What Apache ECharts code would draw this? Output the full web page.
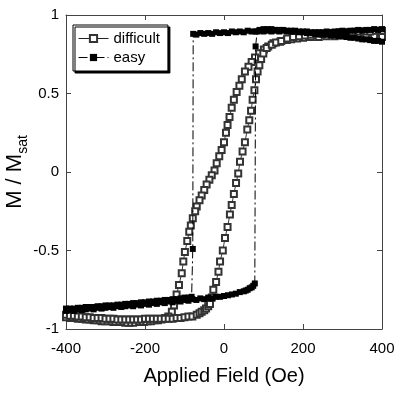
<!DOCTYPE html>
<html>
<head>
<meta charset="utf-8">
<script src="https://cdn.jsdelivr.net/npm/echarts@6/dist/echarts.min.js"></script>
<style>
  html, body { margin: 0; padding: 0; background: #fff; }
  #chart { width: 394px; height: 396px; }
</style>
</head>
<body>
<div id="chart"></div>
<script>
// axis ticks
const xTicks = [-400, -200, 0, 200, 400]
const yTicks = [-1, -0.5, 0, 0.5, 1]

// "difficult" loop, field swept down from +400 to -400
const difficultDown = [
  [400, 0.86], [380, 0.865], [360, 0.87], [340, 0.87], [320, 0.87], [300, 0.87],
  [280, 0.865], [260, 0.865], [240, 0.86], [220, 0.86], [200, 0.855], [185, 0.85],
  [170, 0.845], [159, 0.84], [142, 0.83], [125, 0.82], [112, 0.80], [101, 0.78],
  [89, 0.756], [78.5, 0.73], [70, 0.70], [62, 0.67], [53, 0.64], [45, 0.59],
  [39, 0.55], [32, 0.51], [25, 0.46], [19.5, 0.41], [14, 0.35], [9, 0.30],
  [5, 0.25], [0, 0.19], [-6, 0.14], [-12, 0.10], [-18.5, 0.055], [-24, 0.01],
  [-31, -0.02], [-37, -0.05], [-44, -0.08], [-50, -0.115], [-56.5, -0.15], [-62, -0.18],
  [-69, -0.22], [-73, -0.25], [-79, -0.295], [-84, -0.34], [-88, -0.38], [-93, -0.44],
  [-99, -0.51], [-103, -0.57], [-107, -0.645], [-114, -0.72], [-120, -0.78], [-126.5, -0.85],
  [-132, -0.89], [-141, -0.92], [-149, -0.93], [-158, -0.94], [-167, -0.945], [-176, -0.945],
  [-185, -0.95], [-194, -0.95], [-203, -0.955], [-212, -0.955], [-221, -0.955], [-230, -0.96],
  [-240, -0.96], [-250, -0.96], [-260, -0.955], [-270, -0.955], [-280, -0.955], [-290, -0.95],
  [-300, -0.95], [-310, -0.95], [-320, -0.945], [-330, -0.945], [-340, -0.94], [-350, -0.94],
  [-360, -0.935], [-370, -0.935], [-380, -0.93], [-390, -0.93], [-400, -0.925]
]

// "difficult" loop, field swept up from -400 to +400
const difficultUp = [
  [-400, -0.91], [-390, -0.915], [-380, -0.915], [-370, -0.92], [-360, -0.92], [-350, -0.925],
  [-340, -0.925], [-330, -0.93], [-320, -0.93], [-310, -0.93], [-300, -0.935], [-290, -0.935],
  [-280, -0.935], [-270, -0.94], [-260, -0.94], [-250, -0.94], [-240, -0.94], [-230, -0.94],
  [-220, -0.94], [-210, -0.94], [-200, -0.935], [-190, -0.935], [-180, -0.935], [-170, -0.935],
  [-160, -0.935], [-150, -0.935], [-140, -0.935], [-130, -0.935], [-120, -0.93], [-110, -0.93],
  [-100, -0.925], [-90, -0.92], [-80, -0.92], [-69, -0.91], [-62, -0.90], [-56.5, -0.89],
  [-50, -0.88], [-45.5, -0.87], [-40, -0.855], [-35.5, -0.84], [-31, -0.80], [-27, -0.75],
  [-20, -0.70], [-14, -0.635], [-10, -0.57], [-3, -0.50], [2.5, -0.42], [9, -0.35],
  [15, -0.27], [19.5, -0.21], [25, -0.14], [30.5, -0.07], [36, -0.01], [40.5, 0.065],
  [47, 0.13], [53, 0.19], [59, 0.27], [64, 0.33], [68.5, 0.39], [72.5, 0.46],
  [77, 0.52], [81, 0.59], [85, 0.64], [89.5, 0.68], [94, 0.72], [99.5, 0.755],
  [108, 0.79], [121, 0.81], [132, 0.825], [145, 0.835], [160, 0.85], [175, 0.86],
  [190, 0.865], [205, 0.87], [220, 0.875], [236, 0.88], [250, 0.88], [265, 0.885],
  [280, 0.885], [295, 0.89], [310, 0.89], [325, 0.89], [340, 0.895], [355, 0.895],
  [370, 0.895], [385, 0.9], [400, 0.9]
]

// "easy" loop, upper branch swept down, then the jump near -80
const easyDown = [
  [400, 0.83], [390, 0.835], [380, 0.835], [370, 0.84], [360, 0.845], [350, 0.845],
  [340, 0.85], [330, 0.855], [320, 0.855], [310, 0.86], [300, 0.865], [290, 0.865],
  [280, 0.87], [270, 0.87], [260, 0.875], [250, 0.875], [240, 0.88], [230, 0.88],
  [220, 0.885], [210, 0.885], [200, 0.89], [190, 0.89], [180, 0.895], [170, 0.895],
  [160, 0.895], [150, 0.9], [140, 0.895], [130, 0.9], [120, 0.895], [110, 0.9],
  [100, 0.895], [90, 0.9], [80, 0.895], [70, 0.895], [60, 0.9], [50, 0.89],
  [40, 0.895], [30, 0.89], [20, 0.895], [10, 0.885], [0, 0.89], [-10, 0.885],
  [-20, 0.89], [-30, 0.88], [-40, 0.885], [-50, 0.88], [-60, 0.885], [-70, 0.875],
  [-78, 0.88], [-79, -0.49],
  [-82, -0.795], [-90, -0.80], [-100, -0.80], [-110, -0.805], [-120, -0.81], [-130, -0.81],
  [-140, -0.815], [-150, -0.815], [-160, -0.82], [-170, -0.82], [-180, -0.825], [-190, -0.825],
  [-200, -0.83], [-210, -0.83], [-220, -0.835], [-230, -0.835], [-240, -0.84], [-250, -0.84],
  [-260, -0.845], [-270, -0.845], [-280, -0.85], [-290, -0.85], [-300, -0.85], [-310, -0.855],
  [-320, -0.855], [-330, -0.86], [-340, -0.86], [-350, -0.86], [-360, -0.865], [-370, -0.865],
  [-380, -0.87], [-390, -0.87], [-400, -0.87]
]

// "easy" loop, lower branch swept up, then the jump near +80
const easyUp = [
  [-400, -0.885], [-390, -0.88], [-380, -0.885], [-370, -0.875], [-360, -0.88], [-350, -0.875],
  [-340, -0.87], [-330, -0.875], [-320, -0.865], [-310, -0.87], [-300, -0.865], [-290, -0.86],
  [-280, -0.865], [-270, -0.855], [-260, -0.86], [-250, -0.855], [-240, -0.85], [-230, -0.855],
  [-220, -0.845], [-210, -0.85], [-200, -0.84], [-190, -0.845], [-180, -0.835], [-170, -0.84],
  [-160, -0.83], [-150, -0.835], [-140, -0.825], [-130, -0.83], [-120, -0.82], [-110, -0.825],
  [-100, -0.815], [-90, -0.82], [-80, -0.81], [-70, -0.815], [-60, -0.805], [-50, -0.81],
  [-40, -0.80], [-30, -0.805], [-20, -0.795], [-10, -0.795], [0, -0.79], [10, -0.785],
  [20, -0.78], [30, -0.775], [40, -0.765], [50, -0.76], [55, -0.755], [60, -0.75],
  [65, -0.74], [70, -0.735], [74, -0.725], [78, -0.71],
  [80, 0.80],
  [84, 0.895], [90, 0.905], [100, 0.91], [110, 0.91], [120, 0.91], [130, 0.905],
  [140, 0.905], [150, 0.905], [160, 0.9], [170, 0.9], [180, 0.9], [190, 0.895],
  [200, 0.895], [210, 0.895], [220, 0.89], [230, 0.89], [240, 0.89], [250, 0.89],
  [260, 0.895], [270, 0.89], [280, 0.895], [290, 0.895], [300, 0.9], [310, 0.895],
  [320, 0.9], [330, 0.9], [340, 0.905], [350, 0.9], [360, 0.905], [370, 0.905],
  [380, 0.91], [390, 0.905], [400, 0.91]
]

const FONT = '"Liberation Sans", Arial, sans-serif'

const chart = echarts.init(document.getElementById('chart'), null, { renderer: 'canvas' })

const frameLine = { show: true, onZero: false, lineStyle: { color: '#444', width: 1 } }
const innerTick = { show: true, inside: true, length: 5, lineStyle: { color: '#444' } }

const option = {
  animation: false,
  backgroundColor: '#fff',
  grid: { left: 66, top: 15, right: 12, bottom: 67, outerBoundsMode: 'none' },
  legend: {
    data: ['difficult', 'easy'],
    orient: 'vertical',
    left: 73,
    top: 25,
    padding: [6, 8, 6, 5],
    itemWidth: 30,
    itemHeight: 9,
    itemGap: 4,
    backgroundColor: '#fff',
    borderColor: '#000',
    borderWidth: 1,
    shadowColor: '#000',
    shadowBlur: 0,
    shadowOffsetX: 2,
    shadowOffsetY: 2,
    lineStyle: { width: 1 },
    itemStyle: { borderWidth: 0.9 },
    textStyle: { fontFamily: FONT, fontSize: 15, color: '#000' }
  },
  xAxis: [
    {
      type: 'value', position: 'bottom',
      min: xTicks[0], max: xTicks[xTicks.length - 1], interval: 200,
      axisLine: frameLine, axisTick: innerTick, splitLine: { show: false },
      axisLabel: { fontFamily: FONT, fontSize: 15, color: '#000', margin: 12 },
      name: 'Applied Field (Oe)', nameLocation: 'middle', nameGap: 37,
      nameMoveOverlap: false,
      nameTextStyle: { fontFamily: FONT, fontSize: 20, color: '#000' }
    },
    {
      type: 'value', position: 'top',
      min: xTicks[0], max: xTicks[xTicks.length - 1], interval: 200,
      axisLine: frameLine, axisTick: innerTick, splitLine: { show: false },
      axisLabel: { show: false }
    }
  ],
  yAxis: [
    {
      type: 'value', position: 'left',
      min: yTicks[0], max: yTicks[yTicks.length - 1], interval: 0.5,
      axisLine: frameLine, axisTick: innerTick, splitLine: { show: false },
      axisLabel: { fontFamily: FONT, fontSize: 15, color: '#000', margin: 7 },
      name: '{m|M / M}{s|sat}', nameLocation: 'middle', nameGap: 36,
      nameMoveOverlap: false,
      nameTextStyle: {
        color: '#000',
        rich: {
          m: { fontFamily: FONT, fontSize: 22, color: '#000' },
          s: { fontFamily: FONT, fontSize: 14, color: '#000', padding: [16, 0, 0, 0] }
        }
      }
    },
    {
      type: 'value', position: 'right',
      min: yTicks[0], max: yTicks[yTicks.length - 1], interval: 0.5,
      axisLine: frameLine, axisTick: innerTick, splitLine: { show: false },
      axisLabel: { show: false }
    }
  ],
  series: [
    {
      name: 'difficult',
      type: 'line',
      data: difficultDown.concat(difficultUp),
      symbol: 'emptyRect',
      symbolSize: 6,
      itemStyle: { color: '#333', borderColor: '#333', borderWidth: 0.9 },
      lineStyle: { color: '#222', width: 0.9 },
      z: 2
    },
    {
      name: 'easy',
      type: 'line',
      data: easyDown.concat(easyUp),
      symbol: 'rect',
      symbolSize: 6,
      itemStyle: { color: '#000' },
      lineStyle: { color: '#000', width: 1, type: [9, 3, 2, 3] },
      z: 3
    }
  ]
}

chart.setOption(option)
</script>
</body>
</html>
